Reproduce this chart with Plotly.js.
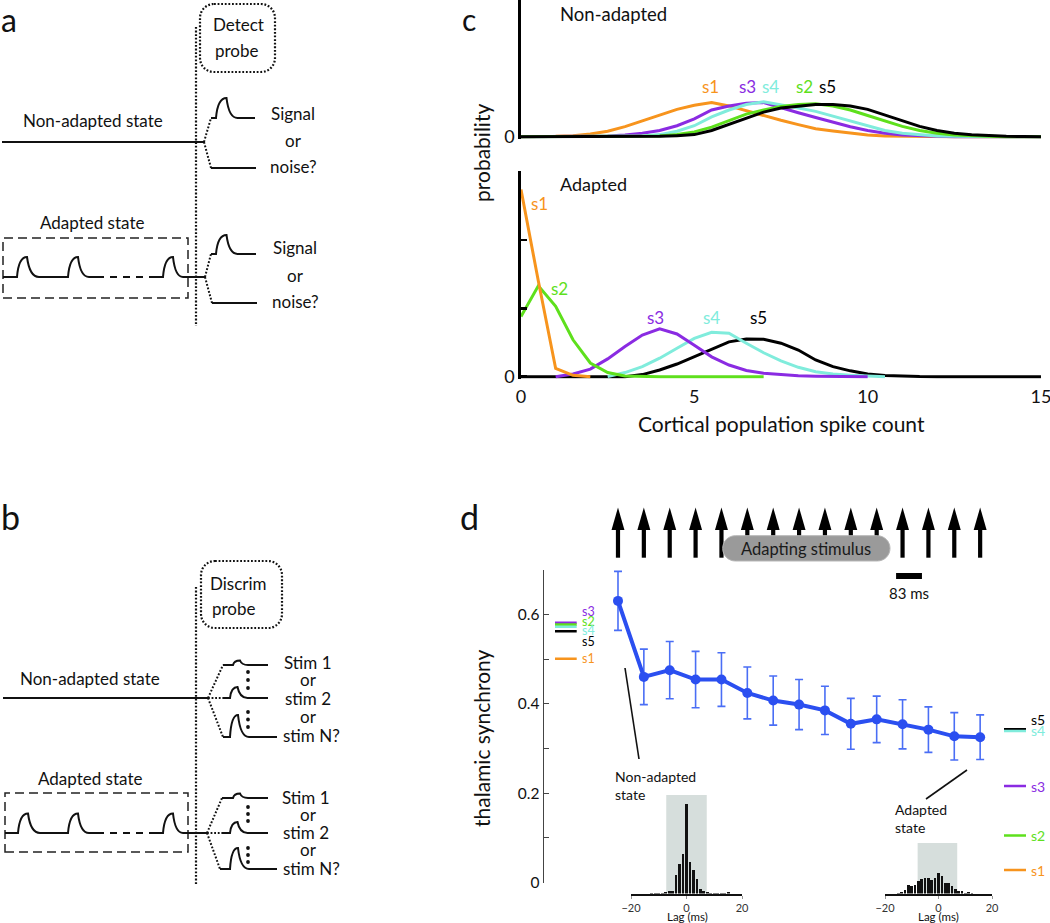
<!DOCTYPE html>
<html><head><meta charset="utf-8">
<script src="https://cdn.plot.ly/plotly-3.0.1.min.js"></script>
<style>html,body{margin:0;padding:0;background:#fff}#plot{width:1050px;height:923px}</style>
</head><body><div id="plot"></div>
<script>
// ================= DATA =================
// panel c : spike-count distributions
const spikeCount = [0,0.5,1,1.5,2,2.5,3,3.5,4,4.5,5,5.5,6,6.5,7,7.5,8,8.5,9,9.5,10,10.5,11,11.5,12,12.5,13,13.5,14,14.5,15];
const stimNames = ['s1','s2','s3','s4','s5'];
const nonAdaptedS1 = [0,0,0.0005,0.0015,0.004,0.008,0.0146,0.023,0.032,0.040,0.046,0.050,0.045,0.038,0.030,0.024,0.0176,0.0117,0.0083,0.005,0.0025,0.001,0.0005,0,0,0,0,0,0,0,0];
const nonAdaptedS2 = [0,0,0,0,0,0,0,0,0.001,0.003,0.007,0.014,0.024,0.033,0.039,0.044,0.047,0.048,0.045,0.039,0.031,0.023,0.015,0.009,0.005,0.0025,0.001,0.0005,0,0,0];
const nonAdaptedS3 = [0,0,0,0,0.0005,0.001,0.0025,0.005,0.009,0.016,0.026,0.039,0.045,0.049,0.050,0.042,0.035,0.028,0.021,0.0146,0.009,0.005,0.0025,0.001,0.0005,0,0,0,0,0,0];
const nonAdaptedS4 = [0,0,0,0,0,0,0,0.001,0.003,0.008,0.016,0.029,0.039,0.047,0.051,0.047,0.042,0.037,0.030,0.022,0.015,0.009,0.005,0.0025,0.001,0.0005,0,0,0,0,0];
const nonAdaptedS5 = [0,0,0,0,0,0,0,0,0.0005,0.0015,0.003,0.009,0.018,0.028,0.036,0.042,0.045,0.047,0.047,0.045,0.040,0.032,0.023,0.015,0.009,0.005,0.0028,0.0014,0.0006,0.0002,0];
const adaptedS1 = [0.274,0.14,0.012,0.002,0,null,null,null,null,null,null,null,null,null,null,null,null,null,null,null,null,null,null,null,null,null,null,null,null,null,null];
const adaptedS2 = [0.088,0.133,0.103,0.054,0.020,0.006,0.001,0,0,0,0,0,0,0,0,null,null,null,null,null,null,null,null,null,null,null,null,null,null,null,null];
const adaptedS3 = [null,null,0,0.004,0.011,0.026,0.044,0.061,0.070,0.0625,0.046,0.029,0.017,0.009,0.005,0.003,0.0015,0.0007,0.0003,0,0,null,null,null,null,null,null,null,null,null,null];
const adaptedS4 = [null,null,null,null,null,0,0.006,0.0146,0.027,0.0415,0.056,0.065,0.0635,0.049,0.035,0.023,0.0137,0.0073,0.004,0.002,0.0008,0,null,null,null,null,null,null,null,null,null];
const adaptedS5 = [0,0,0,0,0,0,0,0.003,0.0098,0.0185,0.029,0.040,0.051,0.055,0.0547,0.049,0.039,0.0244,0.0146,0.0085,0.004,0.0018,0.0007,0.0002,0,0,0,0,0,0,0];
const spikeTicks = [0,5,10,15];

// panel d : thalamic synchrony vs stimulus number
const stimIndex = [1,2,3,4,5,6,7,8,9,10,11,12,13,14,15];
const synchrony = [0.63,0.46,0.475,0.454,0.454,0.424,0.407,0.398,0.385,0.355,0.365,0.354,0.342,0.327,0.325];
const synchronyErr = [0.066,0.062,0.064,0.063,0.06,0.058,0.055,0.056,0.054,0.057,0.052,0.055,0.051,0.053,0.05];
const synchronyTicks = [0,0.1,0.2,0.3,0.4,0.5,0.6,0.7];
const synchronyTickText = ['0','','0.2','','0.4','','0.6',''];
// cortical-equivalent levels (markers beside the axis)
const nonAdaptedLevelNames = ['s3','s2','s4','s5','s1'];
const nonAdaptedLevels = [0.581,0.577,0.572,0.562,0.5005];
const adaptedLevelNames = ['s5','s4','s3','s2','s1'];
const adaptedLevels = [0.343,0.339,0.216,0.105,0.028];
const intervalMs = 83;                        // inter-stimulus interval
const scaleBarStart = 11.75;

// insets: cross-correlograms
const lagBins = [-15,-13.75,-12.5,-11.25,-10,-8.75,-7.5,-6.25,-5,-3.75,-2.5,-1.25,0,1.25,2.5,3.75,5,6.25,7.5,8.75,10,11.25,12.5,13.75,15];
const ccgNonAdapted = [0,0,0.5,0.7,1,0.7,1.7,2.7,2.7,18.3,30,40,90,31.7,23.3,15,5,2.7,1.3,1,0.7,0.7,0.5,0.5,1.3];
const ccgAdapted = [0.5,1.3,4,9,7.3,9,12.3,15,15.7,15.3,13.3,15.7,20.7,17.3,10.7,10.7,7.3,4.7,3,2.3,0.7,1.3,0.5,0,0];
const lagTicks = [-20,0,20];
const syncWindowMs = 7.3;

// ================= COLOURS / HELPERS =================
const COL = {s1:'#f7941d', s2:'#5ee01c', s3:'#8a2be2', s4:'#80ecdc', s5:'#000000'};
const BLUE = '#2b4ff0';
const W = 1050, H = 923;
const px = x => x / W, py = y => 1 - y / H;
const FONT = 'Lato, "Open Sans", sans-serif';

function P(s){
  const out = []; let idx = 0;
  s.trim().split(/[\s,]+/).forEach(tok => {
    if (/^[A-Za-z]$/.test(tok)) { out.push(tok); idx = 0; }
    else if (tok !== '') { const v = parseFloat(tok); out.push((idx % 2 === 0 ? px(v) : py(v)).toFixed(5)); idx++; }
  });
  let res = ''; let cur = 0;
  out.forEach(t => { if (/^[A-Za-z]$/.test(t)) { res += (res ? ' ' : '') + t; cur = 0; } else { res += (cur % 2 === 0 ? (cur === 0 ? '' : ' ') : ',') + t; cur++; } });
  return res;
}
function rrect(x0,y0,x1,y1,r){
  const k = 0.5523*r;
  return `M ${x0+r} ${y0} L ${x1-r} ${y0} C ${x1-r+k} ${y0} ${x1} ${y0+r-k} ${x1} ${y0+r} L ${x1} ${y1-r} C ${x1} ${y1-r+k} ${x1-r+k} ${y1} ${x1-r} ${y1} L ${x0+r} ${y1} C ${x0+r-k} ${y1} ${x0} ${y1-r+k} ${x0} ${y1-r} L ${x0} ${y0+r} C ${x0} ${y0+r-k} ${x0+r-k} ${y0} ${x0+r} ${y0} Z`;
}
function bump(x0,y0,amp,wr,wd){
  return `L ${x0} ${y0} C ${x0+wr*0.12} ${y0-amp*0.75} ${x0+wr*0.45} ${y0-amp} ${x0+wr} ${y0-amp} C ${x0+wr+wd*0.12} ${y0-amp*0.45} ${x0+wr+wd*0.4} ${y0} ${x0+wr+wd} ${y0}`;
}
const shapes = [];
const annotations = [];
function sLine(x0,y0,x1,y1,o={}){ shapes.push({type:'line',xref:'paper',yref:'paper',x0:px(x0),y0:py(y0),x1:px(x1),y1:py(y1),line:{color:o.color||'#111',width:o.width||2,dash:o.dash||'solid'}}); }
function sPath(s,o={}){ shapes.push({type:'path',xref:'paper',yref:'paper',path:P(s),fillcolor:o.fill||'rgba(0,0,0,0)',line:{color:o.color||'#111',width:o.width===undefined?2:o.width,dash:o.dash||'solid'}}); }
function sDot(x,y,r){ shapes.push({type:'circle',xref:'paper',yref:'paper',x0:px(x-r),x1:px(x+r),y0:py(y+r),y1:py(y-r),fillcolor:'#111',line:{width:0}}); }
function txt(t,x,y,o={}){ annotations.push({text:t,xref:o.xref||'paper',yref:o.yref||'paper',x:o.xref?x:px(x),y:o.yref?y:py(y),showarrow:false,xanchor:o.xanchor||'center',yanchor:o.yanchor||'middle',align:o.align||'center',textangle:o.angle||0,font:{family:FONT,size:o.size||17,color:o.color||'#111'}}); }
const DOT = '1.8px,1.8px';

// ================= PANELS a & b : schematics =================
// panel a
txt('a',9,19,{size:32});
sPath(rrect(200,4,275,72,14),{dash:DOT,width:2.2});
txt('Detect',238,25); txt('probe',237,50);
sLine(196,27,196,326,{dash:DOT,width:2.2});
sLine(2,142,204,142);
txt('Non-adapted state',93,121);
sLine(204,142,211,118,{dash:DOT});
sLine(204,142,211,168,{dash:DOT});
sPath(`M 211 118 L 216 118 ${bump(216,118,20,10.5,11)} L 255 118`);
sLine(211,168,256,168);
txt('Signal',293,113); txt('or',293,140); txt('noise?',293,166);
txt('Adapted state',92,222);
shapes.push({type:'rect',xref:'paper',yref:'paper',x0:px(3),x1:px(188),y0:py(298),y1:py(238),line:{color:'#222',width:1.5,dash:'9px,5px'}});
sPath(`M 3 277 L 17 277 ${bump(17,277,20,10,12)} L 68 277 ${bump(68,277,20,10,11)} L 97 277`);
sLine(97,277,155,277,{dash:'7px,6px'});
sPath(`M 153 277 L 163 277 ${bump(163,277,20,10,10)} L 205 277`);
sLine(205,277,211,254,{dash:DOT});
sLine(205,277,212,303,{dash:DOT});
sPath(`M 211 254 L 216 254 ${bump(216,254,19,10.5,11)} L 256 254`);
sLine(212,303,257,303);
txt('Signal',295,248); txt('or',295,275); txt('noise?',295,302);

// panel b
txt('b',10,516,{size:34});
sPath(rrect(201,561,282,628,14),{dash:DOT,width:2.2});
txt('Discrim',238,583); txt('probe',234,608);
sLine(196,587,196,885,{dash:DOT,width:2.2});
sLine(3,698,208,698);
txt('Non-adapted state',90,678);
sLine(208,698,223,665,{dash:DOT});
sLine(208,698,223,698,{dash:DOT});
sLine(208,698,223,737,{dash:DOT});
sPath(`M 223 665 L 233 665 ${bump(233,665,4.5,7,8)} L 268 665`);
sPath(`M 223 698 L 230 698 ${bump(230,698,11,7.5,10)} L 268 698`);
sPath(`M 223 737 L 230 737 ${bump(230,737,22,8,11)} L 277 737`);
[672,680,688,712,719.5,727].forEach(y=>sDot(248,y,1.9));
txt('Stim 1',308,662); txt('or',308,679); txt('stim 2',308,698); txt('or',308,716); txt('stim N?',311,735);
txt('Adapted state',90,778);
shapes.push({type:'rect',xref:'paper',yref:'paper',x0:px(5),x1:px(188),y0:py(852),y1:py(793),line:{color:'#222',width:1.5,dash:'9px,5px'}});
sPath(`M 5 833 L 18 833 ${bump(18,833,19.5,10,12)} L 68 833 ${bump(68,833,19.5,10,11)} L 97 833`);
sLine(97,833,155,833,{dash:'7px,6px'});
sPath(`M 153 833 L 163 833 ${bump(163,833,19.5,10,10)} L 207 833`);
sLine(207,833,222,798,{dash:DOT});
sLine(207,833,223,833,{dash:DOT});
sLine(207,833,220,869,{dash:DOT});
sPath(`M 222 798 L 233 798 ${bump(233,798,4.5,7,8)} L 268 798`);
sPath(`M 223 833 L 230 833 ${bump(230,833,11,7.5,10)} L 268 833`);
sPath(`M 220 869 L 230 869 ${bump(230,869,21,8,11)} L 277 869`);
[807,814,821,848,855,862].forEach(y=>sDot(248,y,1.9));
txt('Stim 1',306,797); txt('or',308,814); txt('stim 2',306,832); txt('or',308,849); txt('stim N?',311,868);

// ================= PANEL c =================
const traces = [];
const topOrder = [['s1',nonAdaptedS1],['s3',nonAdaptedS3],['s4',nonAdaptedS4],['s2',nonAdaptedS2],['s5',nonAdaptedS5]];
topOrder.forEach(([n,v])=>traces.push({type:'scatter',mode:'lines',x:spikeCount,y:v,xaxis:'x',yaxis:'y',name:n,line:{color:COL[n],width:3},connectgaps:false,hoverinfo:'skip'}));
const botOrder = [['s5',adaptedS5],['s4',adaptedS4],['s3',adaptedS3],['s2',adaptedS2],['s1',adaptedS1]];
botOrder.forEach(([n,v])=>traces.push({type:'scatter',mode:'lines',x:spikeCount,y:v,xaxis:'x2',yaxis:'y2',name:n,line:{color:COL[n],width:3},connectgaps:false,hoverinfo:'skip'}));

txt('c',469,19,{size:30});
txt('Non-adapted',558,14,{xanchor:'left',size:18.5});
txt('Adapted',558,184,{xanchor:'left',size:18});
txt('probability',482,153,{angle:-90,size:21});
txt('Cortical population spike count',781,423,{size:21});
// curve labels (data coords)
[['s1',5.48],['s3',6.52],['s4',7.21],['s2',8.17],['s5',8.83]].forEach(([n,x])=>txt(n,x,0.0728,{xref:'x',yref:'y',color:COL[n]}));
[['s1',0.53,0.253],['s2',1.1,0.129],['s3',3.87,0.0869],['s4',5.5,0.0869],['s5',6.85,0.0869]].forEach(([n,x,y])=>txt(n,x,y,{xref:'x2',yref:'y2',color:COL[n]}));

// ================= PANEL d =================
traces.push({type:'scatter',mode:'lines+markers',x:stimIndex,y:synchrony,xaxis:'x3',yaxis:'y3',
  line:{color:BLUE,width:4},marker:{color:BLUE,size:10},
  error_y:{type:'data',array:synchronyErr,visible:true,color:'#4a6ef5',thickness:1.6,width:4},hoverinfo:'skip'});
// stimulus arrows
stimIndex.forEach(s=>{
  shapes.push({type:'line',xref:'x3',yref:'paper',x0:s,x1:s,y0:py(557.7),y1:py(526),line:{color:'#000',width:4.2}});
  shapes.push({type:'path',xref:'x3',yref:'paper',path:`M${s-0.25},${py(530)} L${s},${py(507.5)} L${s+0.25},${py(530)} Z`,fillcolor:'#000',line:{width:0}});
});
sPath(rrect(722.7,535.7,890,561,12.6),{fill:'#9a9a9a',color:'#b5b5b5',width:1});
txt('Adapting stimulus',806,549,{size:16.5,color:'#1a1a1a'});
// scale bar (one inter-stimulus interval)
shapes.push({type:'rect',xref:'x3',yref:'paper',x0:scaleBarStart,x1:scaleBarStart+1,y0:py(579),y1:py(573),fillcolor:'#000',line:{width:0}});
annotations.push({text:intervalMs+' ms',xref:'x3',yref:'paper',x:scaleBarStart+0.5,y:py(593),showarrow:false,font:{family:FONT,size:15,color:'#111'}});
txt('d',469,516,{size:34});
txt('thalamic synchrony',481,738,{angle:-90,size:21});
// level markers
nonAdaptedLevelNames.forEach((n,i)=>shapes.push({type:'line',xref:'paper',yref:'y3',x0:px(555),x1:px(576.7),y0:nonAdaptedLevels[i],y1:nonAdaptedLevels[i],line:{color:COL[n],width:2.6}}));
[['s3',611.7],['s2',621],['s4',630.7],['s5',641],['s1',658]].forEach(([n,y])=>txt(n,580,y,{xanchor:'left',size:12.5,color:COL[n]}));
adaptedLevelNames.forEach((n,i)=>shapes.push({type:'line',xref:'paper',yref:'y3',x0:px(1004),x1:px(1026),y0:adaptedLevels[i],y1:adaptedLevels[i],line:{color:COL[n],width:2.6}}));
[['s5',719],['s4',730],['s3',786],['s2',835.7],['s1',870]].forEach(([n,y])=>txt(n,1029,y,{xanchor:'left',size:14,color:COL[n]}));
// pointers
sLine(625,668,639,759,{width:1.6});
sLine(967,770,926,799,{width:1.6});
txt('Non-adapted<br>state',613,785,{xanchor:'left',align:'left',size:14});
txt('Adapted<br>state',893,818,{xanchor:'left',align:'left',size:14});

// insets
traces.push({type:'bar',x:lagBins,y:ccgNonAdapted,xaxis:'x4',yaxis:'y4',width:1.0,marker:{color:'#111',line:{width:0}},hoverinfo:'skip'});
traces.push({type:'bar',x:lagBins,y:ccgAdapted,xaxis:'x5',yaxis:'y5',width:1.0,marker:{color:'#111',line:{width:0}},hoverinfo:'skip'});
shapes.push({type:'rect',xref:'x4',yref:'y4',x0:-syncWindowMs,x1:syncWindowMs,y0:0,y1:98.5,fillcolor:'#d6dedc',line:{width:0},layer:'below'});
shapes.push({type:'rect',xref:'x5',yref:'y5',x0:-syncWindowMs-0.5,x1:syncWindowMs-0.3,y0:0,y1:50.5,fillcolor:'#d6dedc',line:{width:0},layer:'below'});
txt('Lag (ms)',687,916,{size:11.5});
txt('Lag (ms)',938,916,{size:11.5});

// ================= LAYOUT =================
const baseAx = {showgrid:false,zeroline:false,fixedrange:true};
const histX = {...baseAx,range:[-20,20],showline:true,linecolor:'#111',linewidth:2,ticks:'outside',ticklen:3,tickcolor:'#999',tickvals:lagTicks,tickfont:{family:FONT,size:11,color:'#333'}};
const histY = {...baseAx,range:[0,100],visible:false};
const layout = {
  width:W,height:H,margin:{l:0,r:0,t:0,b:0},paper_bgcolor:'#fff',plot_bgcolor:'rgba(0,0,0,0)',
  showlegend:false,font:{family:FONT,color:'#111'},bargap:0,
  xaxis:{...baseAx,domain:[px(521),px(1041)],range:[0,15.001],anchor:'y',showline:false,showticklabels:false,ticks:''},
  yaxis:{...baseAx,domain:[py(138.7),1],range:[-0.003,0.2001],anchor:'x',showline:true,linecolor:'#000',linewidth:2.6,ticks:'',tickvals:[0],ticktext:['0'],tickfont:{family:FONT,size:18}},
  xaxis2:{...baseAx,domain:[px(521),px(1041)],range:[0,15.001],anchor:'y2',showline:false,ticks:'',tickvals:spikeTicks,ticktext:['0','5','10','15'],ticklabelstandoff:5,ticklabeloverflow:'allow',tickfont:{family:FONT,size:18}},
  yaxis2:{...baseAx,domain:[py(378.7),py(170.7)],range:[-0.003,0.3016],anchor:'x2',showline:true,linecolor:'#000',linewidth:2.6,ticks:'inside',ticklen:6,tickwidth:2.4,tickcolor:'#000',tickvals:[0,0.1,0.2],ticktext:['0','',''],tickfont:{family:FONT,size:18}},
  xaxis3:{...baseAx,domain:[px(544),1],range:[-1.86,17.7],anchor:'y3',visible:false},
  yaxis3:{...baseAx,domain:[py(882.5),py(569.6)],range:[0,0.7],anchor:'x3',showline:true,linecolor:'#444',linewidth:1.5,ticks:'inside',ticklen:5,tickcolor:'#444',tickvals:synchronyTicks,ticktext:synchronyTickText,tickfont:{family:FONT,size:15.5}},
  xaxis4:{...histX,domain:[px(631),px(742)],anchor:'y4'},
  yaxis4:{...histY,domain:[py(893.5),py(793.5)],anchor:'x4'},
  xaxis5:{...histX,domain:[px(885),px(992)],anchor:'y5'},
  yaxis5:{...histY,domain:[py(893.5),py(793.5)],anchor:'x5'},
  shapes:shapes,annotations:annotations
};
Plotly.newPlot('plot',traces,layout,{staticPlot:true,displayModeBar:false});
</script></body></html>
